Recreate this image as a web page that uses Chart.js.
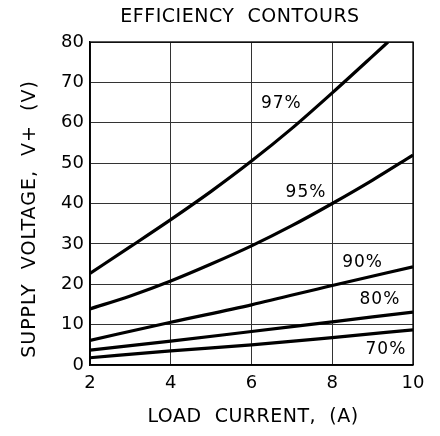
<!DOCTYPE html>
<html><head><meta charset="utf-8">
<script src="https://cdn.jsdelivr.net/npm/chart.js@4"></script>
<style>html,body{margin:0;padding:0;background:#fff;}#wrap{width:440px;height:436px;}</style>
</head><body><div id="wrap"><canvas id="c" width="440" height="436"></canvas></div>
<script>
const title = "EFFICIENCY  CONTOURS";
const xTitle = "LOAD  CURRENT,  (A)";
const yTitle = "SUPPLY  VOLTAGE,  V+  (V)";
const xTicks = [2, 4, 6, 8, 10];
const yTicks = [0, 10, 20, 30, 40, 50, 60, 70, 80];

const load97 = [2, 3, 4, 5, 6, 7, 8, 9, 9.38];
const volt97 = [22.7, 29.3, 36, 43, 50.5, 58.6, 67.4, 76.5, 80];
const load95 = [2, 3, 4, 5, 6, 7, 8, 9, 10];
const volt95 = [13.9, 17.1, 20.8, 25, 29.5, 34.5, 40, 45.8, 52];
const load90 = [2, 4, 6, 8, 10];
const volt90 = [6.1, 10.6, 14.9, 19.7, 24.3];
const load80 = [2, 4, 6, 8, 10];
const volt80 = [3.7, 5.9, 8.3, 10.7, 13.1];
const load70 = [2, 4, 6, 8, 10];
const volt70 = [1.8, 3.5, 5.0, 6.8, 8.7];

const labelText = ["97%", "95%", "90%", "80%", "70%"];
const labelX = [6.74, 7.35, 8.75, 9.18, 9.33];
const labelY = [64.7, 42.7, 25.4, 16.1, 3.9];

function pts(xs, ys) { return xs.map((x, i) => ({x: x, y: ys[i]})); }
function ds(xs, ys) {
  return {data: pts(xs, ys), borderColor: '#000', borderWidth: 3.2, pointRadius: 0,
          showLine: true, fill: false, cubicInterpolationMode: 'monotone', borderCapStyle: 'butt'};
}

const FONT = "'DejaVu Sans', sans-serif";

const textPlugin = {
  id: 'texts',
  afterDraw(chart) {
    const ctx = chart.ctx;
    const xs = chart.scales.x, ys = chart.scales.y;
    ctx.save();
    ctx.fillStyle = '#000';
    ctx.textAlign = 'center';
    ctx.textBaseline = 'middle';
    ctx.font = "19px " + FONT;
    ctx.letterSpacing = "0.5px";
    ctx.fillText(title, 240, 17);
    ctx.fillText(xTitle, 253, 417);
    ctx.save();
    ctx.translate(30, 219);
    ctx.rotate(-Math.PI / 2);
    ctx.letterSpacing = "1px";
    ctx.fillText(yTitle, 0, 0);
    ctx.restore();
    ctx.font = "17px " + FONT;
    ctx.letterSpacing = "1px";
    for (let i = 0; i < labelText.length; i++) {
      ctx.fillText(labelText[i], xs.getPixelForValue(labelX[i]), ys.getPixelForValue(labelY[i]));
    }
    ctx.restore();
  }
};

new Chart(document.getElementById('c'), {
  type: 'scatter',
  data: {datasets: [ds(load97, volt97), ds(load95, volt95), ds(load90, volt90), ds(load80, volt80), ds(load70, volt70)]},
  options: {
    responsive: false, animation: false, devicePixelRatio: 1,
    layout: {padding: {top: 42, right: 27, left: 0, bottom: 0}},
    plugins: {legend: {display: false}, tooltip: {enabled: false}},
    scales: {
      x: {
        type: 'linear', min: 2, max: 10,
        afterBuildTicks(s) { s.ticks = xTicks.map(v => ({value: v})); },
        afterFit(s) { s.height = 71; },
        grid: {color: '#333', lineWidth: 1, drawTicks: false},
        border: {color: '#000', width: 1.3},
        ticks: {color: '#000', font: {size: 18, family: FONT}, padding: 8, maxRotation: 0}
      },
      y: {
        type: 'linear', min: 0, max: 80,
        afterBuildTicks(s) { s.ticks = yTicks.map(v => ({value: v})); },
        afterFit(s) { s.width = 90; },
        grid: {color: '#333', lineWidth: 1, drawTicks: false},
        border: {color: '#000', width: 1.3},
        ticks: {color: '#000', font: {size: 18, family: FONT}, padding: 6}
      }
    }
  },
  plugins: [textPlugin, {
    id: 'frame',
    afterDraw(chart) {
      const ca = chart.chartArea, ctx = chart.ctx;
      ctx.save(); ctx.strokeStyle = '#000'; ctx.lineWidth = 1.3;
      ctx.strokeRect(ca.left, ca.top, ca.right - ca.left, ca.bottom - ca.top);
      ctx.restore();
    }
  }]
});
</script></body></html>
